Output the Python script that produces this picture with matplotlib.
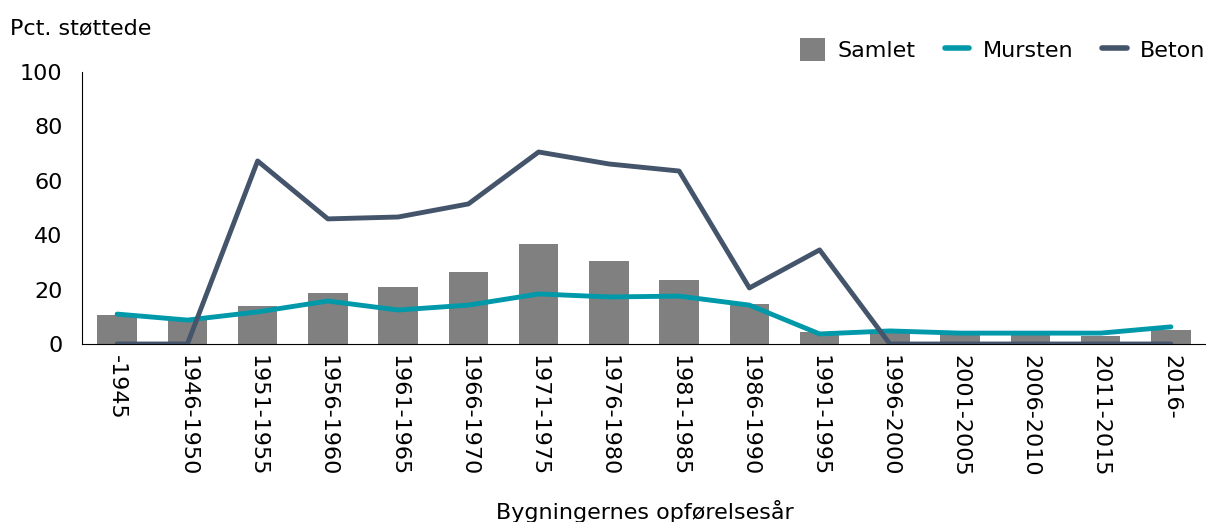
import matplotlib

matplotlib.use("Agg")
import matplotlib.pyplot as plt
import numpy as np
from matplotlib.lines import Line2D
from matplotlib.patches import Patch

periods = [
    "-1945", "1946-1950", "1951-1955", "1956-1960", "1961-1965", "1966-1970",
    "1971-1975", "1976-1980", "1981-1985", "1986-1990", "1991-1995",
    "1996-2000", "2001-2005", "2006-2010", "2011-2015", "2016-",
]
samlet = [10.7, 8.8, 14.0, 18.8, 21.0, 26.5, 36.8, 30.5, 23.5, 14.7, 4.4, 4.0, 3.5, 3.5, 3.0, 5.1]
mursten = [11.0, 8.8, 11.8, 15.8, 12.5, 14.3, 18.4, 17.3, 17.6, 14.3, 3.7, 4.8, 4.0, 4.0, 4.0, 6.3]
beton = [0, 0, 67.3, 46.0, 46.7, 51.5, 70.6, 66.2, 63.6, 20.6, 34.6, 0, 0, 0, 0, 0]

bar_color = "#808080"
mursten_color = "#0099A9"
beton_color = "#44546A"

plt.rcParams["font.family"] = ["DejaVu Sans"]
plt.rcParams["font.size"] = 16

fig = plt.figure(figsize=(12.06, 5.22), dpi=100)
ax = fig.add_axes([0.068, 0.341, 0.932, 0.521])

x = np.arange(len(periods))
ax.bar(x, samlet, width=0.56, color=bar_color, zorder=1)
ax.plot(x, mursten, color=mursten_color, lw=3.5, solid_capstyle="round", zorder=2)
ax.plot(x, beton, color=beton_color, lw=3.5, solid_capstyle="round", zorder=3)

ax.set_xlim(-0.5, len(periods) - 0.5)
ax.set_ylim(0, 100)
ax.set_yticks(range(0, 101, 20))
ax.set_xticks(x)
ax.set_xticklabels(periods, rotation=270, va="top", ha="center")
ax.tick_params(axis="both", length=0, labelsize=16)
ax.tick_params(axis="y", pad=14)
ax.tick_params(axis="x", pad=8)

for side in ("top", "right"):
    ax.spines[side].set_visible(False)
ax.spines["left"].set_color("black")
ax.spines["bottom"].set_color("black")

fig.text(0.008, 0.946, "Pct. støttede", fontsize=16, ha="left", va="center")
fig.text(0.535, 0.02, "Bygningernes opførelsesår", fontsize=16, ha="center", va="center")

handles = [
    Patch(facecolor=bar_color, edgecolor="none"),
    Line2D([], [], color=mursten_color, lw=4, solid_capstyle="round"),
    Line2D([], [], color=beton_color, lw=4, solid_capstyle="round"),
]
fig.legend(
    handles, ["Samlet", "Mursten", "Beton"],
    loc="center right", bbox_to_anchor=(1.016, 0.905), ncol=3, frameon=False,
    fontsize=16, handlelength=1.1, handleheight=1.2, handletextpad=0.6, columnspacing=1.3,
)

fig.savefig("out.png", dpi=100)
